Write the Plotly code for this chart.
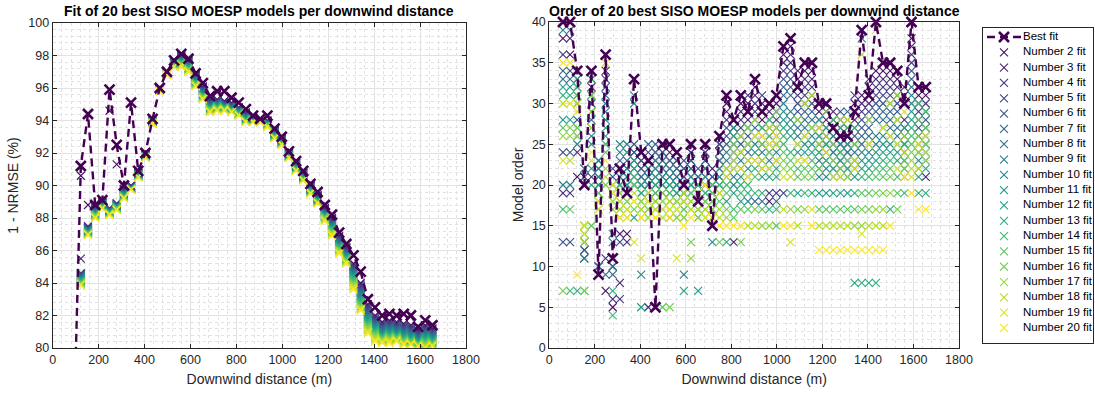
import plotly.graph_objects as go
from plotly.colors import sample_colorscale

# ---------------- data ----------------
distance_m = [60.0, 91.25, 122.5, 153.75, 185.0, 216.25, 247.5, 278.75, 310.0, 341.25,
              372.5, 403.75, 435.0, 466.25, 497.5, 528.75, 560.0, 591.25, 622.5, 653.75,
              685.0, 716.25, 747.5, 778.75, 810.0, 841.25, 872.5, 903.75, 935.0, 966.25,
              997.5, 1028.75, 1060.0, 1091.25, 1122.5, 1153.75, 1185.0, 1216.25, 1247.5, 1278.75,
              1310.0, 1341.25, 1372.5, 1403.75, 1435.0, 1466.25, 1497.5, 1528.75, 1560.0, 1591.25,
              1622.5, 1653.75]

# 1 - NRMSE (%) of the 20 best models at each distance (best fit first)
fit_col_00 = [70.0, 68.0, 67.5, 67.0, 66.6, 66.2, 65.8, 65.4, 65.0, 64.6, 64.2, 63.8, 63.4, 63.0, 62.6, 62.2, 61.8, 61.4, 60.8, 60.0]
fit_col_01 = [74.7, 72.0, 71.6, 71.2, 70.8, 70.4, 70.0, 69.6, 69.2, 68.8, 68.4, 68.0, 67.6, 67.2, 66.8, 66.4, 66.0, 65.6, 65.3, 65.0]
fit_col_02 = [91.2, 90.6, 85.5, 84.6, 84.55, 84.5, 84.45, 84.4, 84.35, 84.3, 84.25, 84.2, 84.15, 84.1, 84.05, 84.0, 83.95, 83.9, 83.9, 83.85]
fit_col_03 = [94.4, 88.8, 87.5, 87.45, 87.4, 87.35, 87.3, 87.3, 87.25, 87.2, 87.2, 87.15, 87.1, 87.1, 87.05, 87.05, 87.0, 87.0, 86.95, 86.95]
fit_col_04 = [88.8, 88.75, 88.7, 88.65, 88.6, 88.55, 88.5, 88.45, 88.4, 88.35, 88.3, 88.3, 88.25, 88.2, 88.2, 88.15, 88.1, 88.05, 88.0, 88.0]
fit_col_05 = [89.1, 89.0, 88.98, 88.95, 88.92, 88.9, 88.88, 88.85, 88.82, 88.8, 88.78, 88.75, 88.72, 88.7, 88.68, 88.66, 88.64, 88.62, 88.6, 88.58]
fit_col_06 = [95.9, 94.6, 88.6, 88.58, 88.55, 88.52, 88.5, 88.48, 88.45, 88.42, 88.4, 88.38, 88.35, 88.32, 88.3, 88.28, 88.25, 88.22, 88.2, 88.18]
fit_col_07 = [92.5, 91.3, 88.9, 88.88, 88.85, 88.82, 88.8, 88.78, 88.75, 88.72, 88.7, 88.68, 88.65, 88.62, 88.6, 88.58, 88.55, 88.52, 88.5, 88.48]
fit_col_08 = [90.0, 89.8, 89.76, 89.72, 89.68, 89.64, 89.6, 89.56, 89.52, 89.48, 89.44, 89.4, 89.38, 89.35, 89.32, 89.3, 89.27, 89.24, 89.22, 89.2]
fit_col_09 = [95.1, 90.0, 89.98, 89.96, 89.94, 89.92, 89.9, 89.88, 89.86, 89.84, 89.83, 89.82, 89.81, 89.8, 89.79, 89.78, 89.77, 89.76, 89.75, 89.74]
fit_col_10 = [90.9, 90.8, 90.78, 90.76, 90.74, 90.72, 90.7, 90.68, 90.66, 90.64, 90.62, 90.6, 90.59, 90.58, 90.56, 90.55, 90.54, 90.52, 90.51, 90.5]
fit_col_11 = [92.0, 91.9, 91.89, 91.88, 91.87, 91.86, 91.85, 91.84, 91.83, 91.82, 91.81, 91.8, 91.79, 91.78, 91.77, 91.76, 91.75, 91.74, 91.72, 91.7]
fit_col_12 = [94.1, 94.0, 93.99, 93.98, 93.97, 93.96, 93.95, 93.94, 93.93, 93.92, 93.91, 93.9, 93.89, 93.88, 93.87, 93.86, 93.85, 93.84, 93.82, 93.8]
fit_col_13 = [96.0, 95.98, 95.97, 95.96, 95.95, 95.94, 95.93, 95.92, 95.91, 95.9, 95.89, 95.88, 95.87, 95.86, 95.85, 95.84, 95.83, 95.82, 95.81, 95.8]
fit_col_14 = [97.0, 96.98, 96.97, 96.96, 96.95, 96.94, 96.93, 96.92, 96.91, 96.9, 96.89, 96.88, 96.87, 96.86, 96.85, 96.84, 96.83, 96.82, 96.81, 96.8]
fit_col_15 = [97.7, 97.65, 97.63, 97.61, 97.59, 97.57, 97.55, 97.53, 97.51, 97.49, 97.47, 97.45, 97.43, 97.41, 97.39, 97.37, 97.35, 97.33, 97.31, 97.3]
fit_col_16 = [98.1, 98.05, 98.0, 97.96, 97.92, 97.88, 97.84, 97.8, 97.76, 97.72, 97.68, 97.64, 97.6, 97.56, 97.52, 97.48, 97.44, 97.4, 97.35, 97.3]
fit_col_17 = [97.8, 97.7, 97.66, 97.62, 97.58, 97.54, 97.5, 97.46, 97.42, 97.38, 97.34, 97.3, 97.26, 97.22, 97.18, 97.14, 97.1, 97.06, 97.03, 97.0]
fit_col_18 = [96.9, 96.8, 96.76, 96.72, 96.68, 96.64, 96.6, 96.56, 96.52, 96.48, 96.44, 96.4, 96.36, 96.32, 96.28, 96.24, 96.2, 96.16, 96.13, 96.1]
fit_col_19 = [96.3, 96.1, 96.05, 96.0, 95.95, 95.9, 95.85, 95.8, 95.75, 95.7, 95.66, 95.62, 95.58, 95.54, 95.5, 95.46, 95.42, 95.38, 95.34, 95.3]
fit_col_20 = [95.5, 95.3, 95.25, 95.2, 95.15, 95.1, 95.05, 95.0, 94.95, 94.9, 94.86, 94.82, 94.78, 94.74, 94.7, 94.66, 94.62, 94.58, 94.54, 94.5]
fit_col_21 = [95.8, 95.3, 95.26, 95.22, 95.18, 95.14, 95.1, 95.06, 95.02, 94.98, 94.94, 94.9, 94.86, 94.82, 94.78, 94.74, 94.7, 94.66, 94.63, 94.6]
fit_col_22 = [95.8, 95.2, 95.16, 95.12, 95.08, 95.04, 95.0, 94.96, 94.93, 94.9, 94.87, 94.84, 94.81, 94.78, 94.75, 94.72, 94.69, 94.66, 94.63, 94.6]
fit_col_23 = [95.4, 95.1, 95.06, 95.02, 94.98, 94.94, 94.9, 94.86, 94.82, 94.78, 94.75, 94.72, 94.69, 94.66, 94.63, 94.6, 94.57, 94.54, 94.52, 94.5]
fit_col_24 = [95.1, 94.8, 94.77, 94.74, 94.71, 94.68, 94.65, 94.62, 94.59, 94.56, 94.53, 94.5, 94.47, 94.44, 94.41, 94.38, 94.35, 94.33, 94.31, 94.3]
fit_col_25 = [94.7, 94.5, 94.46, 94.42, 94.38, 94.34, 94.3, 94.26, 94.22, 94.18, 94.14, 94.1, 94.07, 94.04, 94.01, 93.98, 93.95, 93.93, 93.91, 93.9]
fit_col_26 = [94.3, 94.2, 94.18, 94.16, 94.14, 94.12, 94.1, 94.08, 94.06, 94.04, 94.02, 94.0, 93.98, 93.96, 93.95, 93.94, 93.93, 93.92, 93.91, 93.9]
fit_col_27 = [94.1, 94.0, 93.99, 93.98, 93.98, 93.97, 93.96, 93.96, 93.95, 93.95, 93.94, 93.94, 93.93, 93.93, 93.92, 93.92, 93.91, 93.91, 93.9, 93.9]
fit_col_28 = [94.3, 94.0, 93.98, 93.96, 93.94, 93.92, 93.9, 93.88, 93.86, 93.84, 93.82, 93.8, 93.78, 93.76, 93.74, 93.72, 93.68, 93.65, 93.62, 93.6]
fit_col_29 = [93.5, 93.4, 93.37, 93.34, 93.31, 93.28, 93.25, 93.22, 93.19, 93.16, 93.13, 93.1, 93.07, 93.04, 93.01, 92.98, 92.96, 92.94, 92.92, 92.9]
fit_col_30 = [93.0, 92.9, 92.88, 92.86, 92.83, 92.8, 92.78, 92.76, 92.73, 92.7, 92.68, 92.66, 92.63, 92.6, 92.58, 92.56, 92.54, 92.52, 92.51, 92.5]
fit_col_31 = [92.1, 92.0, 91.98, 91.96, 91.94, 91.92, 91.9, 91.88, 91.86, 91.84, 91.82, 91.8, 91.79, 91.78, 91.76, 91.75, 91.74, 91.72, 91.71, 91.7]
fit_col_32 = [91.5, 91.4, 91.37, 91.34, 91.31, 91.28, 91.25, 91.22, 91.19, 91.16, 91.13, 91.1, 91.07, 91.04, 91.01, 90.98, 90.96, 90.94, 90.92, 90.9]
fit_col_33 = [90.9, 90.8, 90.77, 90.74, 90.71, 90.68, 90.65, 90.62, 90.59, 90.56, 90.53, 90.5, 90.47, 90.44, 90.41, 90.38, 90.36, 90.34, 90.32, 90.3]
fit_col_34 = [90.1, 90.0, 89.97, 89.94, 89.91, 89.88, 89.85, 89.82, 89.79, 89.76, 89.73, 89.7, 89.67, 89.64, 89.61, 89.58, 89.56, 89.54, 89.52, 89.5]
fit_col_35 = [89.6, 89.4, 89.37, 89.34, 89.31, 89.28, 89.25, 89.22, 89.19, 89.16, 89.13, 89.1, 89.07, 89.04, 89.01, 88.98, 88.96, 88.94, 88.92, 88.9]
fit_col_36 = [88.8, 88.6, 88.55, 88.5, 88.46, 88.42, 88.38, 88.34, 88.3, 88.26, 88.22, 88.18, 88.14, 88.1, 88.06, 88.02, 87.96, 87.9, 87.85, 87.8]
fit_col_37 = [88.2, 88.0, 87.94, 87.88, 87.82, 87.76, 87.7, 87.64, 87.58, 87.52, 87.46, 87.4, 87.34, 87.28, 87.22, 87.16, 87.1, 87.04, 86.97, 86.9]
fit_col_38 = [87.1, 86.9, 86.84, 86.78, 86.72, 86.66, 86.6, 86.54, 86.48, 86.42, 86.36, 86.3, 86.24, 86.18, 86.12, 86.06, 86.0, 85.94, 85.87, 85.8]
fit_col_39 = [86.4, 86.2, 86.15, 86.1, 86.04, 85.98, 85.92, 85.86, 85.8, 85.74, 85.68, 85.62, 85.56, 85.5, 85.45, 85.4, 85.35, 85.3, 85.25, 85.2]
fit_col_40 = [85.7, 85.2, 85.12, 85.04, 84.96, 84.88, 84.8, 84.72, 84.64, 84.56, 84.48, 84.4, 84.3, 84.2, 84.1, 84.0, 83.9, 83.8, 83.7, 83.6]
fit_col_41 = [84.7, 84.0, 83.9, 83.8, 83.7, 83.6, 83.5, 83.4, 83.3, 83.2, 83.1, 83.0, 82.9, 82.8, 82.7, 82.6, 82.5, 82.45, 82.4, 82.3]
fit_col_42 = [83.0, 82.7, 82.6, 82.5, 82.4, 82.3, 82.2, 82.1, 82.0, 81.9, 81.8, 81.7, 81.6, 81.5, 81.4, 81.3, 81.2, 81.1, 81.0, 80.9]
fit_col_43 = [82.5, 82.0, 81.9, 81.8, 81.72, 81.64, 81.56, 81.48, 81.4, 81.32, 81.24, 81.16, 81.08, 81.0, 80.9, 80.8, 80.7, 80.6, 80.5, 80.4]
fit_col_44 = [82.0, 81.6, 81.52, 81.44, 81.36, 81.28, 81.2, 81.12, 81.04, 80.96, 80.88, 80.8, 80.74, 80.68, 80.62, 80.56, 80.5, 80.44, 80.37, 80.3]
fit_col_45 = [82.1, 81.7, 81.62, 81.54, 81.46, 81.38, 81.3, 81.22, 81.14, 81.06, 80.98, 80.9, 80.83, 80.76, 80.69, 80.62, 80.55, 80.48, 80.4, 80.3]
fit_col_46 = [82.0, 81.6, 81.52, 81.44, 81.36, 81.28, 81.2, 81.12, 81.04, 80.96, 80.9, 80.84, 80.78, 80.72, 80.66, 80.6, 80.55, 80.5, 80.45, 80.4]
fit_col_47 = [82.1, 81.5, 81.42, 81.34, 81.26, 81.18, 81.1, 81.02, 80.94, 80.86, 80.78, 80.7, 80.63, 80.56, 80.49, 80.42, 80.36, 80.3, 80.25, 80.2]
fit_col_48 = [82.0, 81.4, 81.32, 81.24, 81.16, 81.08, 81.0, 80.92, 80.84, 80.76, 80.68, 80.6, 80.54, 80.48, 80.42, 80.36, 80.31, 80.27, 80.23, 80.2]
fit_col_49 = [81.3, 81.1, 81.03, 80.96, 80.89, 80.82, 80.75, 80.68, 80.61, 80.54, 80.48, 80.42, 80.37, 80.32, 80.28, 80.24, 80.2, 80.16, 80.13, 80.1]
fit_col_50 = [81.7, 81.4, 81.32, 81.24, 81.16, 81.08, 81.0, 80.92, 80.84, 80.76, 80.68, 80.6, 80.52, 80.44, 80.36, 80.28, 80.2, 80.13, 80.06, 80.0]
fit_col_51 = [81.4, 81.2, 81.13, 81.06, 80.99, 80.92, 80.85, 80.78, 80.71, 80.64, 80.57, 80.5, 80.44, 80.38, 80.32, 80.27, 80.22, 80.17, 80.13, 80.1]

# model order of the 20 best models at each distance (best fit first)
order_col_00 = [40, 38, 19, 36, 24, 13, 34, 33, 20, 39, 28, 32, 31, 17, 27, 7, 26, 30, 23, 35]
order_col_01 = [40, 36, 38, 19, 34, 13, 24, 33, 20, 39, 32, 28, 31, 7, 17, 27, 26, 23, 30, 35]
order_col_02 = [34, 21, 24, 33, 32, 28, 31, 26, 30, 25, 27, 33, 7, 32, 31, 27, 26, 30, 29, 9]
order_col_03 = [20, 12, 11, 21, 22, 21, 12, 13, 11, 14, 13, 22, 14, 7, 15, 7, 15, 13, 15, 14]
order_col_04 = [34, 33, 32, 21, 31, 30, 29, 28, 27, 26, 25, 22, 20, 33, 15, 31, 29, 27, 23, 24]
order_col_05 = [9, 9, 10, 23, 22, 21, 10, 20, 23, 22, 21, 20, 19, 19, 18, 19, 18, 17, 17, 18]
order_col_06 = [36, 7, 34, 11, 33, 32, 31, 9, 30, 29, 28, 27, 26, 25, 24, 20, 22, 21, 35, 23]
order_col_07 = [11, 5, 6, 10, 21, 22, 9, 10, 13, 14, 20, 19, 7, 4, 18, 19, 17, 18, 20, 19]
order_col_08 = [22, 14, 8, 6, 13, 21, 23, 20, 24, 25, 21, 19, 20, 18, 17, 16, 19, 17, 18, 16]
order_col_09 = [19, 14, 13, 21, 22, 23, 24, 20, 25, 22, 21, 20, 24, 18, 17, 16, 18, 19, 17, 16]
order_col_10 = [33, 24, 23, 22, 21, 25, 20, 24, 31, 30, 16, 23, 22, 21, 20, 17, 18, 19, 13, 18]
order_col_11 = [24, 23, 22, 21, 20, 23, 22, 21, 19, 9, 5, 20, 19, 18, 17, 16, 18, 17, 11, 16]
order_col_12 = [23, 22, 5, 21, 24, 20, 25, 19, 22, 21, 20, 19, 18, 17, 16, 18, 17, 16, 19, 18]
order_col_13 = [5, 24, 23, 22, 21, 20, 25, 19, 24, 23, 22, 21, 20, 18, 19, 17, 18, 17, 16, 16]
order_col_14 = [25, 24, 23, 22, 21, 20, 24, 19, 23, 22, 21, 16, 20, 18, 5, 17, 19, 18, 17, 16]
order_col_15 = [25, 24, 23, 22, 21, 25, 20, 23, 19, 22, 21, 16, 20, 18, 19, 5, 17, 18, 17, 16]
order_col_16 = [24, 23, 22, 21, 20, 23, 19, 22, 21, 18, 20, 19, 17, 18, 16, 17, 16, 18, 11, 17]
order_col_17 = [20, 21, 22, 19, 23, 21, 22, 18, 9, 20, 19, 7, 17, 18, 16, 17, 16, 19, 18, 15]
order_col_18 = [25, 24, 23, 22, 24, 21, 23, 20, 22, 21, 19, 20, 18, 17, 19, 13, 11, 18, 17, 16]
order_col_19 = [18, 19, 20, 21, 22, 19, 20, 21, 17, 18, 7, 16, 19, 20, 17, 18, 16, 17, 19, 18]
order_col_20 = [25, 24, 23, 22, 21, 20, 24, 23, 19, 22, 21, 20, 18, 19, 17, 18, 16, 17, 16, 20]
order_col_21 = [15, 22, 21, 20, 19, 18, 21, 20, 19, 13, 17, 18, 17, 16, 20, 19, 18, 17, 16, 16]
order_col_22 = [26, 25, 24, 23, 22, 25, 21, 24, 23, 20, 22, 21, 19, 20, 18, 13, 17, 16, 19, 15]
order_col_23 = [31, 30, 29, 28, 27, 26, 25, 24, 23, 22, 18, 21, 13, 20, 19, 17, 16, 22, 21, 15]
order_col_24 = [28, 27, 13, 26, 25, 24, 23, 22, 21, 20, 27, 19, 26, 17, 16, 25, 24, 23, 22, 15]
order_col_25 = [31, 30, 29, 28, 27, 26, 25, 24, 23, 22, 21, 18, 20, 19, 17, 13, 26, 24, 22, 15]
order_col_26 = [29, 30, 28, 31, 27, 26, 25, 24, 18, 23, 22, 21, 19, 20, 17, 27, 25, 15, 23, 21]
order_col_27 = [33, 32, 31, 30, 29, 28, 18, 27, 26, 25, 24, 23, 22, 19, 21, 17, 28, 15, 26, 23]
order_col_28 = [29, 28, 30, 27, 31, 26, 25, 18, 24, 23, 22, 21, 19, 27, 17, 25, 15, 23, 22, 26]
order_col_29 = [30, 18, 29, 19, 28, 27, 26, 25, 24, 23, 22, 21, 17, 28, 26, 24, 15, 27, 22, 25]
order_col_30 = [31, 30, 29, 19, 28, 27, 26, 18, 25, 24, 23, 22, 21, 17, 15, 29, 27, 25, 23, 26]
order_col_31 = [37, 36, 35, 34, 19, 33, 32, 31, 30, 29, 28, 27, 26, 25, 24, 23, 22, 17, 21, 15]
order_col_32 = [38, 37, 36, 35, 34, 33, 32, 31, 29, 28, 27, 26, 24, 19, 23, 22, 17, 21, 13, 15]
order_col_33 = [32, 33, 34, 31, 30, 29, 28, 27, 26, 25, 24, 19, 23, 22, 21, 17, 28, 15, 25, 23]
order_col_34 = [35, 34, 33, 32, 31, 30, 29, 28, 27, 26, 25, 24, 23, 19, 22, 21, 17, 30, 26, 23]
order_col_35 = [35, 34, 33, 32, 31, 30, 29, 28, 27, 26, 25, 24, 19, 23, 22, 21, 27, 31, 17, 15]
order_col_36 = [30, 29, 28, 27, 26, 25, 24, 23, 22, 21, 19, 28, 26, 24, 17, 22, 25, 15, 27, 12]
order_col_37 = [30, 29, 28, 27, 26, 25, 24, 23, 22, 21, 19, 27, 25, 23, 17, 29, 26, 15, 24, 12]
order_col_38 = [27, 28, 29, 26, 25, 24, 23, 22, 21, 26, 24, 19, 22, 28, 17, 25, 23, 15, 21, 12]
order_col_39 = [26, 27, 28, 25, 29, 24, 23, 22, 21, 25, 23, 19, 27, 24, 17, 22, 28, 15, 21, 12]
order_col_40 = [26, 25, 27, 24, 28, 23, 22, 29, 21, 24, 19, 25, 22, 27, 17, 23, 21, 15, 28, 12]
order_col_41 = [29, 30, 28, 31, 27, 26, 25, 24, 23, 22, 21, 8, 19, 27, 17, 25, 15, 23, 22, 12]
order_col_42 = [39, 31, 30, 29, 28, 27, 26, 25, 38, 24, 23, 22, 8, 21, 19, 17, 15, 36, 14, 12]
order_col_43 = [31, 32, 30, 33, 29, 28, 27, 26, 25, 24, 23, 22, 8, 21, 19, 17, 28, 15, 25, 12]
order_col_44 = [40, 34, 33, 32, 31, 30, 29, 28, 26, 25, 24, 23, 8, 22, 21, 19, 17, 15, 39, 12]
order_col_45 = [35, 34, 33, 32, 31, 30, 29, 28, 27, 26, 25, 24, 23, 22, 21, 19, 17, 15, 27, 12]
order_col_46 = [35, 34, 33, 32, 31, 30, 29, 28, 27, 26, 25, 24, 17, 23, 22, 21, 19, 30, 26, 15]
order_col_47 = [34, 33, 32, 31, 30, 29, 28, 27, 26, 25, 24, 23, 22, 21, 19, 17, 31, 28, 25, 22]
order_col_48 = [30, 31, 32, 28, 27, 26, 25, 24, 23, 22, 21, 27, 25, 19, 23, 22, 26, 24, 29, 21]
order_col_49 = [40, 38, 37, 36, 35, 34, 33, 32, 31, 30, 29, 28, 27, 26, 25, 24, 23, 22, 21, 19]
order_col_50 = [32, 31, 30, 29, 28, 27, 26, 25, 24, 23, 22, 21, 19, 30, 28, 26, 24, 22, 25, 17]
order_col_51 = [32, 31, 21, 30, 29, 28, 27, 26, 25, 24, 23, 22, 19, 29, 27, 25, 23, 24, 26, 17]

series_names = ["Best fit"] + [f"Number {n} fit" for n in range(2, 21)]
chart_titles = ["Fit of 20 best SISO MOESP models per downwind distance",
                "Order of 20 best SISO MOESP models per downwind distance"]
x_label = "Downwind distance (m)"
y_labels = ["1 - NRMSE (%)", "Model order"]

# ---------------- build ----------------
n_cols = len(distance_m)
fit_columns = [globals()[f"fit_col_{k:02d}"] for k in range(n_cols)]
order_columns = [globals()[f"order_col_{k:02d}"] for k in range(n_cols)]
for c in fit_columns + order_columns:
    assert len(c) == 20, c

colors = sample_colorscale("Viridis", [i / 19 for i in range(20)])
FONT = "Liberation Sans, Arial, Helvetica, sans-serif"
AX = "#262626"
W, H = 1095, 395

fig = go.Figure()

panels = [(fit_columns, "x", "y", True), (order_columns, "x2", "y2", False)]
for cols, xa, ya, clip in panels:
    for n in range(1, 20):
        fig.add_trace(go.Scatter(
            x=distance_m, y=[c[n] for c in cols], mode="markers", xaxis=xa, yaxis=ya,
            name=series_names[n], showlegend=False, hoverinfo="skip", cliponaxis=clip,
            marker=dict(symbol="x-thin", size=8, color=colors[n],
                        line=dict(width=1.1, color=colors[n]))))
    fig.add_trace(go.Scatter(
        x=distance_m, y=[c[0] for c in cols], mode="lines+markers", xaxis=xa, yaxis=ya,
        name=series_names[0], showlegend=False, hoverinfo="skip", cliponaxis=clip,
        line=dict(color=colors[0], width=2.4, dash="8px,5px"),
        marker=dict(symbol="x-thin", size=10, color=colors[0],
                    line=dict(width=2.6, color=colors[0]))))

# ---------------- custom legend (own small axes) ----------------
leg_rows = list(range(20))
fig.add_trace(go.Scatter(x=[987, 1021], y=[0, 0], mode="lines", xaxis="x3", yaxis="y3",
                         showlegend=False, hoverinfo="skip",
                         line=dict(color=colors[0], width=2.4, dash="8px,5px")))
fig.add_trace(go.Scatter(x=[1004], y=[0], mode="markers", xaxis="x3", yaxis="y3",
                         showlegend=False, hoverinfo="skip",
                         marker=dict(symbol="x-thin", size=10, color=colors[0],
                                     line=dict(width=2.6, color=colors[0]))))
fig.add_trace(go.Scatter(x=[1004] * 19, y=leg_rows[1:], mode="markers", xaxis="x3", yaxis="y3",
                         showlegend=False, hoverinfo="skip",
                         marker=dict(symbol="x-thin", size=8, color=colors[1:],
                                     line=dict(width=1.1, color=colors[1:]))))
fig.add_trace(go.Scatter(x=[1023] * 20, y=leg_rows, mode="text", text=series_names,
                         textposition="middle right", xaxis="x3", yaxis="y3",
                         showlegend=False, hoverinfo="skip", cliponaxis=False,
                         textfont=dict(family=FONT, size=11.5, color="#000000")))


def axis(domain, rng, dtick, minor_dtick, title, standoff, anchor):
    return dict(
        domain=domain, range=rng, dtick=dtick, tick0=0, autorange=False, anchor=anchor,
        showline=True, linecolor=AX, linewidth=1, mirror="ticks",
        ticks="inside", ticklen=4, tickwidth=1, tickcolor=AX,
        tickfont=dict(family=FONT, size=12.5, color=AX),
        showgrid=True, gridcolor="#e2e2e2", gridwidth=1, zeroline=False,
        minor=dict(dtick=minor_dtick, showgrid=True, gridcolor="#e2e2e2",
                   griddash="dot", gridwidth=1, ticks=""),
        title=dict(text=title, font=dict(family=FONT, size=14, color=AX), standoff=standoff),
        automargin=False,
    )


xd1 = [52.7 / W, 466.0 / W]
xd2 = [549.3 / W, 959.0 / W]
yd1 = [1 - 348.0 / H, 1 - 23.0 / H]
yd2 = [1 - 348.0 / H, 1 - 22.0 / H]

fig.update_layout(
    width=W, height=H,
    margin=dict(l=0, r=0, t=0, b=0),
    paper_bgcolor="white", plot_bgcolor="white",
    font=dict(family=FONT, color=AX),
    showlegend=False,
    xaxis=axis(xd1, [0, 1800], 200, 40, x_label, 8, "y"),
    yaxis=axis(yd1, [80, 100], 2, 0.4, y_labels[0], 6, "x"),
    xaxis2=axis(xd2, [0, 1800], 200, 40, x_label, 8, "y2"),
    yaxis2=axis(yd2, [0, 40], 5, 1, y_labels[1], 4, "x2"),
    xaxis3=dict(domain=[983 / W, 1093 / W], range=[983, 1093], anchor="y3", showgrid=False,
                zeroline=False, showticklabels=False, ticks="", showline=True, mirror=True,
                linecolor=AX, linewidth=1),
    yaxis3=dict(domain=[1 - 343 / H, 1 - 28 / H], range=[19.98, -0.59], anchor="x3", showgrid=False,
                zeroline=False, showticklabels=False, ticks="", showline=True, mirror=True,
                linecolor=AX, linewidth=1),
    annotations=[
        dict(text=f"<b>{chart_titles[0]}</b>", x=(xd1[0] + xd1[1]) / 2, y=1 - 11 / H,
             xref="paper", yref="paper", xanchor="center", yanchor="middle", showarrow=False,
             font=dict(family=FONT, size=14, color="#000000")),
        dict(text=f"<b>{chart_titles[1]}</b>", x=(xd2[0] + xd2[1]) / 2, y=1 - 11 / H,
             xref="paper", yref="paper", xanchor="center", yanchor="middle", showarrow=False,
             font=dict(family=FONT, size=14, color="#000000")),
    ],
)

fig.write_html("out.html")
